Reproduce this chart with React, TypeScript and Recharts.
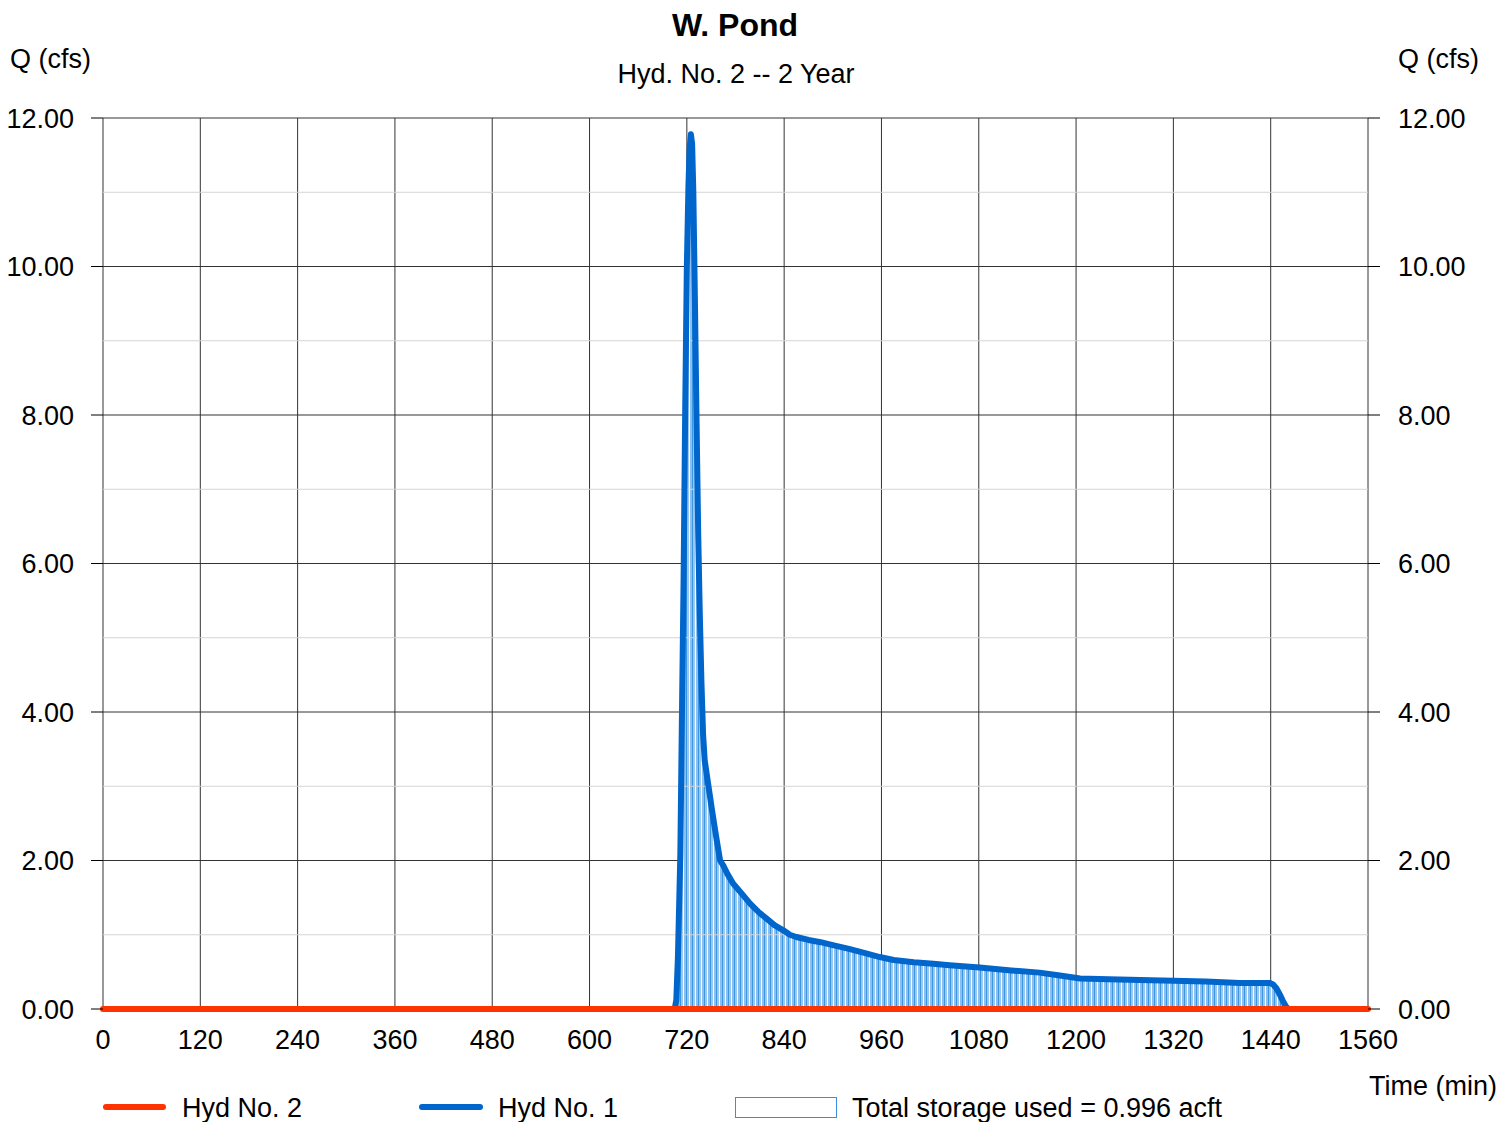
import React from "react"
import { ComposedChart, Area, Line, XAxis, YAxis, CartesianGrid, ReferenceLine } from "recharts"

// Hyd No. 1 (inflow)
const times = [
  0, 700, 705, 707, 709, 712, 714, 716, 718, 720, 722, 723.5, 725, 726.5, 728, 730, 732, 734, 736, 738,
  740, 742, 746, 751, 756, 761, 765, 770, 777, 788, 798, 808, 818, 828, 839, 847, 855, 870, 885, 900,
  920, 941, 958, 975, 1000, 1024, 1044, 1081, 1120, 1155, 1180, 1205, 1240, 1279, 1320, 1360, 1402,
  1439, 1443, 1447, 1451, 1455, 1459, 1462, 1560,
]
const hyd1 = [
  0, 0, 0, 0.12, 0.7, 2.1, 4.0, 5.8, 8.1, 10.0, 11.1, 11.6, 11.78, 11.65, 11.0, 9.5, 7.9, 6.4, 5.3, 4.4,
  3.7, 3.35, 3.05, 2.68, 2.33, 2.0, 1.93, 1.82, 1.69, 1.55, 1.42, 1.31, 1.22, 1.13, 1.06, 1.0, 0.97, 0.93, 0.9, 0.86,
  0.81, 0.75, 0.7, 0.66, 0.63, 0.61, 0.59, 0.56, 0.52, 0.49, 0.45, 0.41, 0.4, 0.39, 0.38, 0.37, 0.35,
  0.35, 0.33, 0.28, 0.2, 0.11, 0.03, 0, 0,
]

// Hyd No. 2 (outflow) stays at zero
const hyd2Times = [0, 1560]
const hyd2 = [0, 0]

const xTicks = [0, 120, 240, 360, 480, 600, 720, 840, 960, 1080, 1200, 1320, 1440, 1560]
const yTicks = [0, 2, 4, 6, 8, 10, 12]
const yMinor = [1, 3, 5, 7, 9, 11]

const title = "W. Pond"
const subtitle = "Hyd. No. 2 -- 2 Year"
const storageLabel = "Total storage used = 0.996 acft"

const RED = "#FF3300"
const BLUE = "#0066CC"
const FONT = "'Liberation Sans', Arial, sans-serif"

const inflow = times.map((t, i) => ({ t, q: hyd1[i] }))
const outflow = hyd2Times.map((t, i) => ({ t, q: hyd2[i] }))

const txt = (left: number, top: number, size: number, s: string, extra: React.CSSProperties = {}) => (
  <div style={{ position: "absolute", left, top, fontSize: size, lineHeight: `${size}px`, whiteSpace: "nowrap", ...extra }}>
    {s}
  </div>
)

export default function App() {
  const tickStyle = { fontSize: 27, fill: "#000", fontFamily: FONT }
  return (
    <div style={{ position: "absolute", left: 0, top: 0, width: 1501, height: 1122, fontFamily: FONT, color: "#000", background: "#fff" }}>
      <ComposedChart width={1501} height={1122} margin={{ top: 118, right: 73, bottom: 63, left: 43 }}>
        <defs>
          <pattern id="hatch" width="6" height="10" patternUnits="userSpaceOnUse">
            <rect x="0" y="0" width="2" height="10" fill="#8bc0ee" />
            <rect x="2" y="0" width="1" height="10" fill="#3a95e3" />
            <rect x="3" y="0" width="2" height="10" fill="#9ac8f0" />
            <rect x="5" y="0" width="1" height="10" fill="#ffffff" />
          </pattern>
        </defs>
        <XAxis
          dataKey="t"
          type="number"
          domain={[0, 1560]}
          ticks={xTicks}
          height={50}
          axisLine={false}
          tickLine={false}
          tickMargin={15}
          tick={tickStyle}
          interval={0}
          allowDuplicatedCategory={false}
        />
        <YAxis
          yAxisId="left"
          type="number"
          domain={[0, 12]}
          ticks={yTicks}
          width={60}
          axisLine={false}
          tickSize={12}
          tickLine={{ stroke: "#000" }}
          tickMargin={17}
          tick={tickStyle}
          tickFormatter={(v: number) => v.toFixed(2)}
          interval={0}
        />
        <YAxis
          yAxisId="right"
          orientation="right"
          type="number"
          domain={[0, 12]}
          ticks={yTicks}
          width={60}
          axisLine={false}
          tickSize={12}
          tickLine={{ stroke: "#000" }}
          tickMargin={18}
          tick={tickStyle}
          tickFormatter={(v: number) => v.toFixed(2)}
          interval={0}
        />
        {yMinor.map((v) => (
          <ReferenceLine key={v} yAxisId="left" y={v} stroke="#d4d4d4" strokeWidth={1} />
        ))}
        <CartesianGrid yAxisId="left" stroke="#333" strokeWidth={1} horizontalValues={yTicks} verticalValues={xTicks} />
        <Area
          yAxisId="left"
          data={inflow}
          dataKey="q"
          type="linear"
          stroke="none"
          fill="url(#hatch)"
          fillOpacity={1}
          isAnimationActive={false}
        />
        <Line
          yAxisId="left"
          data={inflow}
          dataKey="q"
          type="linear"
          stroke={BLUE}
          strokeWidth={6}
          strokeLinejoin="round"
          dot={false}
          isAnimationActive={false}
        />
        <Line
          yAxisId="right"
          data={outflow}
          dataKey="q"
          type="linear"
          stroke={RED}
          strokeWidth={6}
          strokeLinecap="round"
          dot={false}
          isAnimationActive={false}
        />
      </ComposedChart>

      {txt(0, 9, 32, title, { width: 1470, textAlign: "center", fontWeight: "bold" })}
      {txt(0, 61, 27, subtitle, { width: 1472, textAlign: "center" })}
      {txt(10, 46, 27, "Q (cfs)")}
      {txt(1398, 46, 27, "Q (cfs)")}
      {txt(1369, 1073, 27, "Time (min)")}

      <div style={{ position: "absolute", left: 103, top: 1104, width: 63, height: 6, borderRadius: 3, background: RED }} />
      {txt(182, 1095, 27, "Hyd No. 2")}
      <div style={{ position: "absolute", left: 419, top: 1104, width: 64, height: 6, borderRadius: 3, background: BLUE }} />
      {txt(498, 1095, 27, "Hyd No. 1")}
      <div style={{ position: "absolute", left: 735, top: 1097, width: 100, height: 19, border: "1px solid #3a8ee0", background: "#fff" }} />
      {txt(852, 1095, 27, storageLabel)}
    </div>
  )
}
